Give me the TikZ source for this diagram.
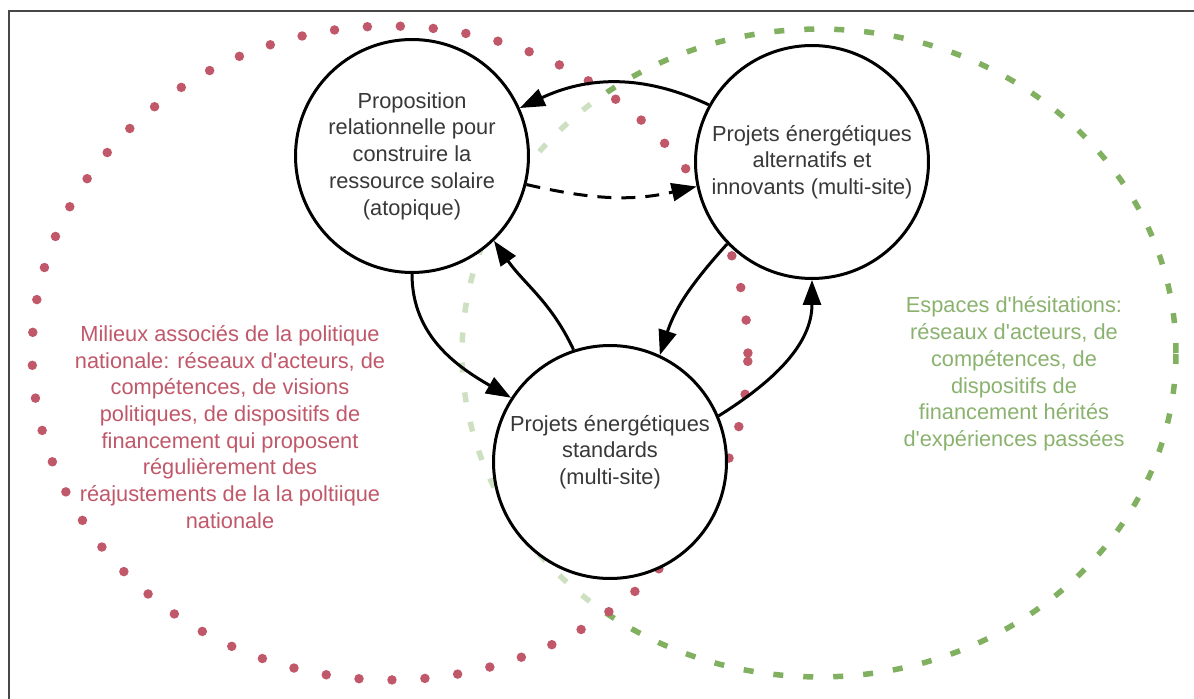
\documentclass[tikz,border=0pt]{standalone}
\usepackage{fontspec}
\setmainfont{Liberation Sans}
\usepackage{tikz}
\usetikzlibrary{arrows.meta}
\usepackage{xcolor}
\definecolor{milieured}{RGB}{192,88,106}
\definecolor{hesitgreen}{RGB}{128,176,96}
\definecolor{greentext}{RGB}{138,178,110}
\definecolor{framegray}{RGB}{72,72,72}
\newcommand{\apos}{\textquotesingle}

\begin{document}
\begin{tikzpicture}[x=0.02cm, y=-0.02cm,
  bubble/.style={circle, draw, line width=0.06cm, fill=white, minimum size=4.66cm, inner sep=0pt, align=center, text=black!78, font=\fontsize{12.4pt}{15.2pt}\selectfont},
  textlbl/.style={align=center, inner sep=0pt, font=\fontsize{12.4pt}{15.2pt}\selectfont},
  dotted red/.style={milieured, line width=0.19cm, line cap=round, dash pattern=on 0pt off 0.66cm},
  dashed green/.style={hesitgreen, line width=0.11cm, dash pattern=on 0.2cm off 0.4cm},
  arrow/.style={-{Triangle[length=0.5cm, width=0.36cm]}, line width=0.06cm}
]
\useasboundingbox (0,0) rectangle (1194,699);
\draw[framegray, line width=0.05cm] (9,699) -- (9,11) -- (1194,11);

% the two milieux
\draw[dashed green] (819,353) ellipse [x radius=7.14cm, y radius=6.48cm];
\fill[white, fill opacity=0.62] (390,353) ellipse [x radius=7.16cm, y radius=6.54cm];
\draw[dotted red] (390,353) ellipse [x radius=7.16cm, y radius=6.54cm];

\node[bubble] (solaire) at (412,156) {Proposition\\relationnelle pour\\construire la\\ressource solaire\\(atopique)};
\node[bubble] (alternatifs) at (812,162) {Projets énergétiques\\alternatifs et\\innovants (multi-site)};
\node[bubble] (standards) at (610,462) {};
\node[textlbl, text=black!78] (standardstxt) at (610,452) {Projets énergétiques\\standards\\(multi-site)};

\node[textlbl, text=milieured] (milieux) at (230,427) {Milieux associés de la politique\\nationale: réseaux d\apos acteurs, de\\compétences, de visions\\politiques, de dispositifs de\\financement qui proposent\\régulièrement des\\réajustements de la la poltiique\\nationale};
\node[textlbl, text=greentext] (hesitations) at (1014,374) {Espaces d\apos hésitations:\\réseaux d\apos acteurs, de\\compétences, de\\dispositifs de\\financement hérités\\d\apos expériences passées};

\draw[arrow] (alternatifs.151) to[out=155, in=25] (solaire.24);
\draw[arrow, dash pattern=on 0.28cm off 0.2cm] (solaire.-14) to[out=-13, in=193] (alternatifs.192);
\draw[arrow] (standards.108) to[out=115, in=-55] (solaire.-46);
\draw[arrow] (solaire.-90) to[out=-90, in=150] (standards.147);
\draw[arrow] (alternatifs.224) to[out=228, in=72] (standards.65);
\draw[arrow] (standards.23) to[out=32, in=-90] (alternatifs.-90);
\end{tikzpicture}
\end{document}
